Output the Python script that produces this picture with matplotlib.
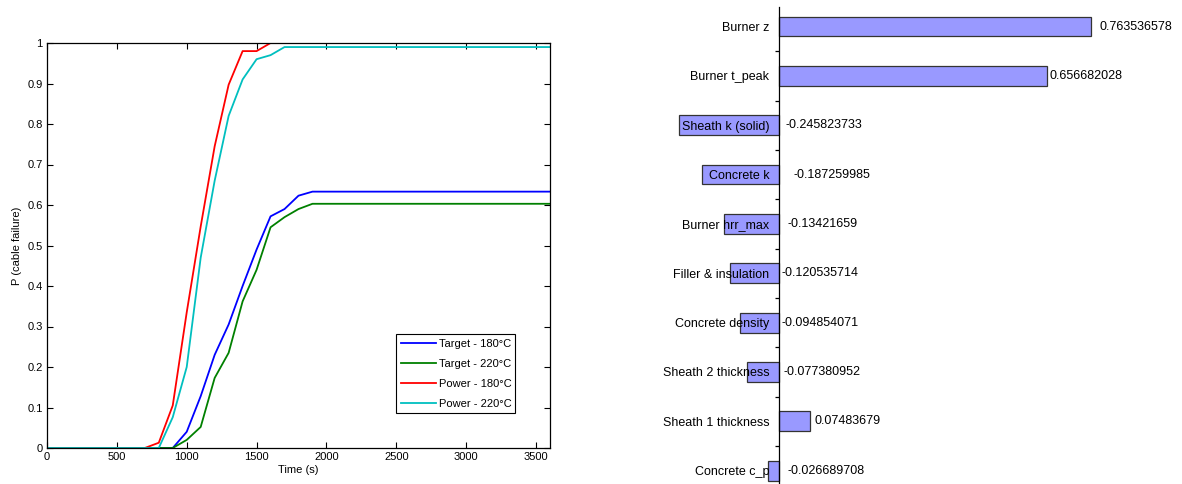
import numpy as np
import matplotlib
matplotlib.use('Agg')
import matplotlib.pyplot as plt
from matplotlib.ticker import FixedLocator, NullFormatter

plt.rcParams['font.family'] = ['Liberation Sans', 'DejaVu Sans']

# probability of cable failure over time
time_s = [0, 700, 800, 900, 1000, 1100, 1200, 1300, 1400, 1500, 1600, 1700, 1800, 1900, 3600]
target_180 = [0, 0, 0, 0, 0.04, 0.128, 0.23, 0.305, 0.40, 0.49, 0.572, 0.59, 0.623, 0.633, 0.633]
target_220 = [0, 0, 0, 0, 0.02, 0.052, 0.173, 0.235, 0.362, 0.44, 0.545, 0.57, 0.59, 0.603, 0.603]
power_180 = [0, 0, 0.013, 0.105, 0.335, 0.547, 0.745, 0.897, 0.98, 0.98, 1.0, 1.0, 1.0, 1.0, 1.0]
power_220 = [0, 0, 0, 0.076, 0.2, 0.47, 0.66, 0.82, 0.91, 0.96, 0.97, 0.99, 0.99, 0.99, 0.99]

# sensitivity of failure to each parameter
params = ['Burner z', 'Burner t_peak', 'Sheath k (solid)', 'Concrete k', 'Burner hrr_max',
          'Filler & insulation', 'Concrete density', 'Sheath 2 thickness',
          'Sheath 1 thickness', 'Concrete c_p']
sens = [0.763536578, 0.656682028, -0.245823733, -0.187259985, -0.13421659,
        -0.120535714, -0.094854071, -0.077380952, 0.07483679, -0.026689708]
value_text = ['0.763536578', '0.656682028', '-0.245823733', '-0.187259985', '-0.13421659',
              '-0.120535714', '-0.094854071', '-0.077380952', '0.07483679', '-0.026689708']
# gap (px) between bar end / axis and value text
label_gap = [9, 2, 6, 15, 8, 2, 3, 5, 5, 9]

W, H = 1182, 484
fig = plt.figure(figsize=(W / 100, H / 100), dpi=100)

# ---- left: failure probability curves
ax = fig.add_axes([47 / W, 36 / H, 503 / W, 405 / H])
ax.plot(time_s, target_180, color='#0000ff', lw=1.3, label='Target - 180°C')
ax.plot(time_s, target_220, color='#008000', lw=1.3, label='Target - 220°C')
ax.plot(time_s, power_180, color='#ff0000', lw=1.3, label='Power - 180°C')
ax.plot(time_s, power_220, color='#00bfbf', lw=1.3, label='Power - 220°C')
ax.set_xlim(0, 3600)
ax.set_ylim(0, 1)
ax.set_xticks(np.arange(0, 3501, 500))
ax.set_yticks(np.arange(0, 1.01, 0.1))
ax.set_yticklabels(['0'] + ['%g' % v for v in np.arange(0.1, 0.95, 0.1)] + ['1'])
ax.tick_params(direction='in', top=True, right=True, labelsize=8, length=4, width=0.8, pad=3)
for sp in ax.spines.values():
    sp.set_linewidth(0.9)
ax.set_xlabel('Time (s)', fontsize=8, labelpad=2)
ax.set_ylabel('P (cable failure)', fontsize=8, labelpad=4)
leg = ax.legend(loc='lower left', bbox_to_anchor=(0.694, 0.086, 0.236, 0.195), mode='expand',
                fontsize=8, fancybox=False, framealpha=1, handlelength=3.2,
                borderaxespad=0, labelspacing=0.9, handletextpad=0.3)
leg.get_frame().set_edgecolor('black')
leg.get_frame().set_linewidth(0.8)

# ---- right: sensitivity bars
px_per_unit = 408.6
x0 = 779
bx = fig.add_axes([640 / W, 0, 542 / W, (H - 7.3) / H])
ypos = np.arange(len(params))
bx.barh(ypos, sens, height=0.4, color='#9999ff', edgecolor='#333333', linewidth=0.9, zorder=1)
bx.set_xlim((640 - x0) / px_per_unit, (1182 - x0) / px_per_unit)
bx.set_ylim(len(params) - 1 + 0.27, -0.39)
for name in ['top', 'right', 'bottom']:
    bx.spines[name].set_visible(False)
bx.spines['left'].set_position(('data', 0))
bx.spines['left'].set_linewidth(0.9)
bx.spines['left'].set_zorder(3)
bx.set_xticks([])
bx.set_yticks(ypos)
bx.set_yticklabels(params)
bx.yaxis.set_minor_locator(FixedLocator(ypos[:-1] + 0.5))
bx.yaxis.set_minor_formatter(NullFormatter())
bx.tick_params(axis='y', which='major', length=0, pad=7, labelsize=9)
bx.tick_params(axis='y', which='minor', length=3.2, width=0.9, direction='out')
bx.yaxis.set_zorder(3)
for y, v, txt, gap in zip(ypos, sens, value_text, label_gap):
    bx.annotate(txt, (max(v, 0), y), xytext=(gap * 0.72, 0), textcoords='offset points',
                ha='left', va='center', fontsize=9)

fig.savefig('out.png', dpi=100)
